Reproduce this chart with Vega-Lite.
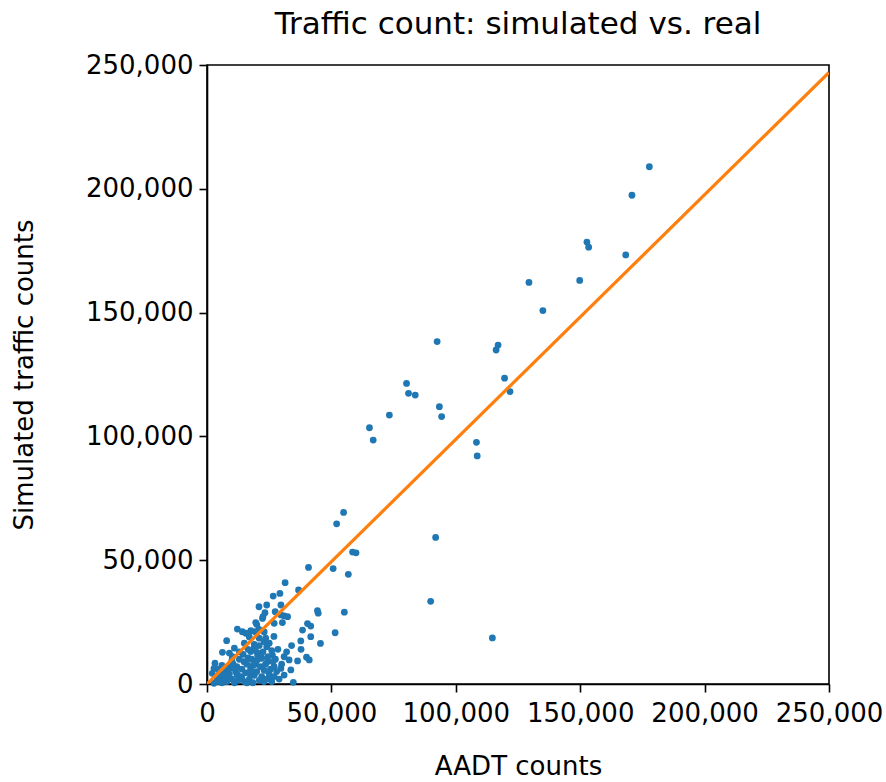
{
  "$schema": "https://vega.github.io/schema/vega-lite/v6.json",
  "width": 622,
  "height": 619,
  "autosize": {"type": "none"},
  "padding": {"left": 207, "top": 65, "right": 57, "bottom": 98},
  "background": "white",
  "config": {
    "font": "DejaVu Sans",
    "view": {"stroke": "black", "strokeWidth": 1.6},
    "axis": {
      "domainColor": "black", "domainWidth": 1.6,
      "tickColor": "black", "tickWidth": 1.6, "tickSize": 8,
      "labelFont": "DejaVu Sans", "labelFontSize": 26, "labelColor": "black",
      "labelPadding": 6,
      "titleFont": "DejaVu Sans", "titleFontSize": 26, "titleFontWeight": "normal", "titleColor": "black",
      "grid": false
    },
    "title": {"font": "DejaVu Sans", "fontSize": 31, "fontWeight": "normal", "color": "black"}
  },
  "title": {"text": "Traffic count: simulated vs. real", "anchor": "middle", "offset": 11},
  "datasets": {
    "pts": [
      {"aadt": 177800, "sim": 208900}, {"aadt": 170800, "sim": 197400}, {"aadt": 152700, "sim": 178500},
      {"aadt": 153400, "sim": 176400}, {"aadt": 168300, "sim": 173300}, {"aadt": 149800, "sim": 163000},
      {"aadt": 129400, "sim": 162200}, {"aadt": 135000, "sim": 150800}, {"aadt": 92500, "sim": 138300},
      {"aadt": 117000, "sim": 136900}, {"aadt": 116200, "sim": 134900}, {"aadt": 80200, "sim": 121400},
      {"aadt": 119600, "sim": 123500}, {"aadt": 81000, "sim": 117400}, {"aadt": 83700, "sim": 116700},
      {"aadt": 121800, "sim": 118100}, {"aadt": 93400, "sim": 112000}, {"aadt": 94300, "sim": 108000},
      {"aadt": 73300, "sim": 108600}, {"aadt": 65300, "sim": 103500}, {"aadt": 66800, "sim": 98500},
      {"aadt": 108300, "sim": 97600}, {"aadt": 108600, "sim": 92100}, {"aadt": 54900, "sim": 69300},
      {"aadt": 52100, "sim": 64700}, {"aadt": 91900, "sim": 59200}, {"aadt": 58500, "sim": 53300},
      {"aadt": 59900, "sim": 53000}, {"aadt": 40800, "sim": 47100}, {"aadt": 50700, "sim": 46600},
      {"aadt": 56800, "sim": 44300}, {"aadt": 89900, "sim": 33400}, {"aadt": 44400, "sim": 29600},
      {"aadt": 44700, "sim": 28600}, {"aadt": 55200, "sim": 29000}, {"aadt": 114700, "sim": 18600},
      {"aadt": 31400, "sim": 40900}, {"aadt": 26600, "sim": 35500}, {"aadt": 29300, "sim": 36600},
      {"aadt": 36800, "sim": 38000}, {"aadt": 20900, "sim": 31200}, {"aadt": 24000, "sim": 31900},
      {"aadt": 29700, "sim": 31900}, {"aadt": 23300, "sim": 28800}, {"aadt": 22500, "sim": 27200},
      {"aadt": 27400, "sim": 29200}, {"aadt": 29700, "sim": 27900}, {"aadt": 31000, "sim": 27500},
      {"aadt": 32400, "sim": 27200}, {"aadt": 19600, "sim": 24800}, {"aadt": 22300, "sim": 26500},
      {"aadt": 27000, "sim": 24500}, {"aadt": 30300, "sim": 24800}, {"aadt": 40400, "sim": 24400},
      {"aadt": 41700, "sim": 23400}, {"aadt": 38400, "sim": 21800}, {"aadt": 41700, "sim": 19100},
      {"aadt": 51500, "sim": 20700}, {"aadt": 17600, "sim": 21500}, {"aadt": 19300, "sim": 21100},
      {"aadt": 20900, "sim": 22100}, {"aadt": 23600, "sim": 18500}, {"aadt": 26900, "sim": 19200},
      {"aadt": 12200, "sim": 22200}, {"aadt": 14200, "sim": 21100}, {"aadt": 15600, "sim": 20500},
      {"aadt": 7900, "sim": 17500}, {"aadt": 37700, "sim": 17400}, {"aadt": 34000, "sim": 15500},
      {"aadt": 23000, "sim": 17100}, {"aadt": 21000, "sim": 15500}, {"aadt": 45600, "sim": 16400},
      {"aadt": 37800, "sim": 14000}, {"aadt": 6200, "sim": 12800}, {"aadt": 10200, "sim": 11000},
      {"aadt": 17600, "sim": 13100}, {"aadt": 18900, "sim": 14400}, {"aadt": 20300, "sim": 11700},
      {"aadt": 26300, "sim": 11700}, {"aadt": 31000, "sim": 11000}, {"aadt": 33000, "sim": 9700},
      {"aadt": 36400, "sim": 9300}, {"aadt": 40000, "sim": 10800}, {"aadt": 41100, "sim": 9700},
      {"aadt": 3200, "sim": 8400}, {"aadt": 2800, "sim": 6300}, {"aadt": 2100, "sim": 4300},
      {"aadt": 14900, "sim": 9000}, {"aadt": 21600, "sim": 10400}, {"aadt": 24300, "sim": 9000},
      {"aadt": 27000, "sim": 7000}, {"aadt": 29700, "sim": 6300}, {"aadt": 33700, "sim": 5700},
      {"aadt": 31000, "sim": 3600}, {"aadt": 34700, "sim": 700}, {"aadt": 22900, "sim": 1000},
      {"aadt": 25600, "sim": 2300}, {"aadt": 17600, "sim": 3600}, {"aadt": 12200, "sim": 3600},
      {"aadt": 8200, "sim": 2300}, {"aadt": 5500, "sim": 1000}, {"aadt": 2800, "sim": 300},
      {"aadt": 4000, "sim": 1000}, {"aadt": 5000, "sim": 2500}, {"aadt": 6000, "sim": 500},
      {"aadt": 7000, "sim": 3000}, {"aadt": 7500, "sim": 5000}, {"aadt": 8000, "sim": 1000},
      {"aadt": 9000, "sim": 4000}, {"aadt": 9500, "sim": 6500}, {"aadt": 10000, "sim": 2000},
      {"aadt": 10500, "sim": 8000}, {"aadt": 11000, "sim": 500}, {"aadt": 11500, "sim": 5000},
      {"aadt": 12000, "sim": 7000}, {"aadt": 12500, "sim": 1500}, {"aadt": 13000, "sim": 10000},
      {"aadt": 13500, "sim": 3000}, {"aadt": 14000, "sim": 6000}, {"aadt": 14500, "sim": 12000},
      {"aadt": 15000, "sim": 1000}, {"aadt": 15500, "sim": 4500}, {"aadt": 16000, "sim": 8000},
      {"aadt": 16500, "sim": 14000}, {"aadt": 17000, "sim": 2000}, {"aadt": 17500, "sim": 6000},
      {"aadt": 18000, "sim": 10000}, {"aadt": 18500, "sim": 500}, {"aadt": 19000, "sim": 3500},
      {"aadt": 19500, "sim": 8000}, {"aadt": 20000, "sim": 5000}, {"aadt": 20500, "sim": 12500},
      {"aadt": 21000, "sim": 1500}, {"aadt": 21500, "sim": 7000}, {"aadt": 22000, "sim": 3000},
      {"aadt": 22500, "sim": 13000}, {"aadt": 23000, "sim": 5500}, {"aadt": 23500, "sim": 8000},
      {"aadt": 24000, "sim": 2000}, {"aadt": 24500, "sim": 11000}, {"aadt": 25000, "sim": 4000},
      {"aadt": 25500, "sim": 6000}, {"aadt": 26000, "sim": 1000}, {"aadt": 26500, "sim": 9000},
      {"aadt": 27000, "sim": 3000}, {"aadt": 28000, "sim": 5000}, {"aadt": 29000, "sim": 2000},
      {"aadt": 30000, "sim": 8000}, {"aadt": 8500, "sim": 7000}, {"aadt": 6500, "sim": 4000},
      {"aadt": 5000, "sim": 5000}, {"aadt": 3500, "sim": 3000}, {"aadt": 12000, "sim": 4000},
      {"aadt": 14000, "sim": 2500}, {"aadt": 16000, "sim": 500}, {"aadt": 18000, "sim": 5000},
      {"aadt": 20000, "sim": 9500}, {"aadt": 22000, "sim": 10500}, {"aadt": 24000, "sim": 15000},
      {"aadt": 26000, "sim": 13500}, {"aadt": 19000, "sim": 16000}, {"aadt": 23000, "sim": 21000},
      {"aadt": 20000, "sim": 24000}, {"aadt": 17000, "sim": 19000}, {"aadt": 28500, "sim": 14000},
      {"aadt": 11000, "sim": 14500}, {"aadt": 9000, "sim": 12500},
      {"aadt": 15000, "sim": 16500}, {"aadt": 13000, "sim": 13000}, {"aadt": 10000, "sim": 9500},
      {"aadt": 16500, "sim": 10500}, {"aadt": 19500, "sim": 13500}, {"aadt": 25000, "sim": 16500},
      {"aadt": 6000, "sim": 7500}, {"aadt": 4500, "sim": 6000}, {"aadt": 27500, "sim": 10000},
      {"aadt": 32000, "sim": 13000}, {"aadt": 21000, "sim": 18500}, {"aadt": 18500, "sim": 7500}
    ],
    "fit": [
      {"aadt": 0, "sim": 0},
      {"aadt": 250000, "sim": 247000}
    ]
  },
  "layer": [
    {
      "data": {"name": "pts"},
      "mark": {"type": "circle", "color": "#1f77b4", "opacity": 1, "size": 46},
      "encoding": {
        "x": {"field": "aadt", "type": "quantitative", "title": "AADT counts",
          "scale": {"domain": [0, 250000], "nice": false, "zero": true},
          "axis": {"values": [0, 50000, 100000, 150000, 200000, 250000], "format": ",d", "labelPadding": 8, "titlePadding": 27, "labelFlush": false}},
        "y": {"field": "sim", "type": "quantitative", "title": "Simulated traffic counts",
          "scale": {"domain": [0, 250000], "nice": false, "zero": true},
          "axis": {"values": [0, 50000, 100000, 150000, 200000, 250000], "format": ",d", "titlePadding": 48, "labelFlush": false}}
      }
    },
    {
      "data": {"name": "fit"},
      "mark": {"type": "line", "color": "#ff7f0e", "strokeWidth": 3.2, "clip": true},
      "encoding": {
        "x": {"field": "aadt", "type": "quantitative"},
        "y": {"field": "sim", "type": "quantitative"}
      }
    }
  ]
}
